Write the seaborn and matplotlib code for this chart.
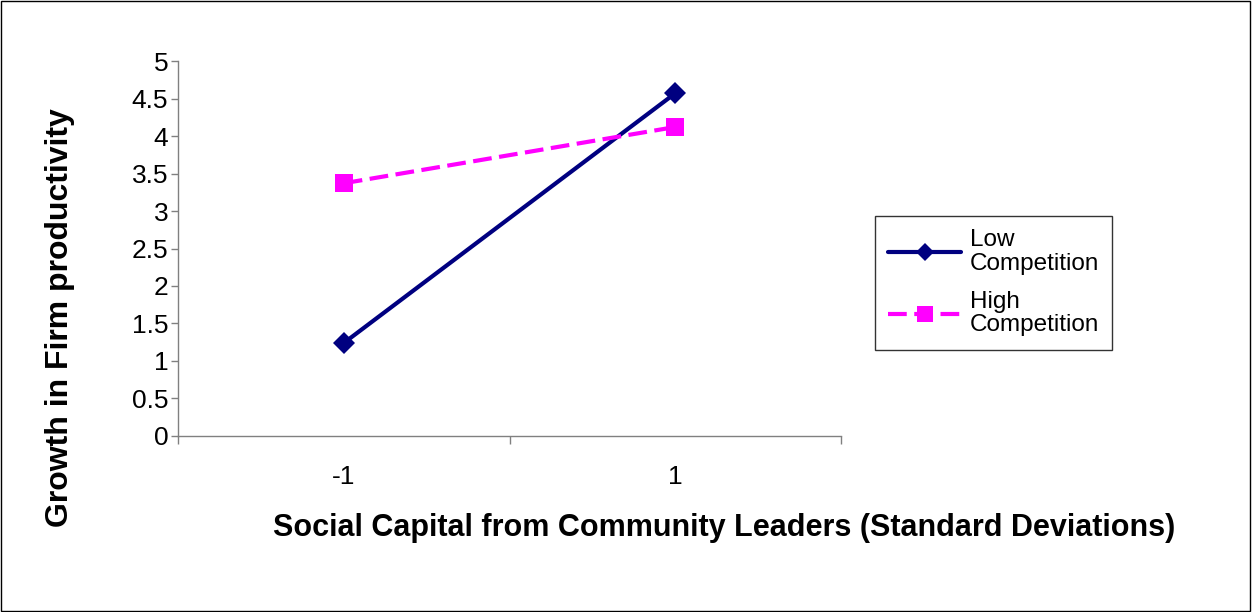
import pandas as pd
import matplotlib
matplotlib.use("Agg")
import matplotlib.pyplot as plt
import seaborn as sns

# values
categories = ["-1", "1"]
low_competition = [1.24, 4.57]
high_competition = [3.37, 4.12]
series_names = ["Low\nCompetition", "High\nCompetition"]

sns.set_theme(style="white")
plt.rcParams['font.family'] = ['Liberation Sans', 'DejaVu Sans']
plt.rcParams['text.color'] = 'black'
plt.rcParams['axes.labelcolor'] = 'black'

df = pd.DataFrame({
    'pos': list(range(len(categories))) * 2,
    'value': low_competition + high_competition,
    'series': [series_names[0]] * len(categories) + [series_names[1]] * len(categories),
})

fig = plt.figure(figsize=(12.52, 6.12), dpi=100)
ax = fig.add_axes([0.1422, 0.2876, 0.6717 - 0.1422, 0.9003 - 0.2876])

sns.lineplot(data=df, x='pos', y='value', hue='series', style='series',
             palette={series_names[0]: '#000080', series_names[1]: '#FF00FF'},
             markers={series_names[0]: 'D', series_names[1]: 's'},
             dashes={series_names[0]: '', series_names[1]: (4.5, 1.8)},
             linewidth=3, markeredgewidth=0, ax=ax)

# marker sizes differ per series
for line, ms in zip(ax.get_lines(), [11, 13]):
    line.set_markersize(ms)

ax.set_xlim(-0.5, len(categories) - 0.5)
ax.set_ylim(0, 5)
ax.set_yticks([i * 0.5 for i in range(11)])
ax.set_yticklabels(['0', '0.5', '1', '1.5', '2', '2.5', '3', '3.5', '4', '4.5', '5'])
ax.set_xticks([i - 0.5 for i in range(len(categories) + 1)])
ax.set_xticklabels([])
ax.set_xticks(range(len(categories)), minor=True)
ax.set_xticklabels(categories, minor=True)
ax.tick_params(axis='x', which='minor', length=0, pad=21, labelsize=19, labelcolor='black')
ax.tick_params(axis='x', which='major', length=6, width=1, color='#808080', direction='out')
ax.tick_params(axis='y', length=5, width=1, color='#808080', direction='out',
               labelsize=19, pad=2, labelcolor='black')
ax.tick_params(bottom=True, left=True)

for side in ['top', 'right']:
    ax.spines[side].set_visible(False)
for side in ['left', 'bottom']:
    ax.spines[side].set_color('#808080')
    ax.spines[side].set_linewidth(1)

ax.set_xlabel("Social Capital from Community Leaders (Standard Deviations)",
              fontsize=22, fontweight='bold', va='center')
ax.xaxis.set_label_coords(0.823, -0.245)
ax.set_ylabel("Growth in Firm productivity", fontsize=23, fontweight='bold', va='center')
ax.yaxis.set_label_coords(-0.178, 0.315)

handles, labels = ax.get_legend_handles_labels()
leg = ax.legend(handles, labels, loc='upper left', bbox_to_anchor=(1.051, 0.587),
                frameon=True, fancybox=False, edgecolor='black', fontsize=17.5,
                handlelength=3.0, labelspacing=0.65, borderpad=0.55, handletextpad=0.35,
                borderaxespad=0)
leg.get_frame().set_linewidth(1)
for txt in leg.get_texts():
    txt.set_linespacing(1.1)
for h, ms in zip(leg.legend_handles, [9, 11]):
    h.set_markersize(ms)

fig.patches.append(plt.Rectangle((0.0005, 0.001), 0.998, 0.997, transform=fig.transFigure,
                                 fill=False, edgecolor='black', linewidth=1))

fig.savefig("out.png", dpi=100, facecolor='white')
